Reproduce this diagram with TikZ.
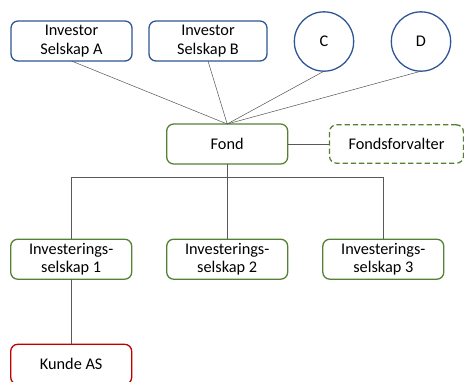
\documentclass[tikz,border=0pt]{standalone}
\usepackage{fontspec}
\setmainfont{Carlito}
\usepackage{tikz}
\usetikzlibrary{calc}

\definecolor{inv_blue}{HTML}{2F5597}
\definecolor{fond_green}{HTML}{548235}
\definecolor{kunde_red}{HTML}{C00000}
\definecolor{link_gray}{HTML}{595959}

\tikzset{
    box/.style={draw, rounded corners=6pt, line width=1.1pt, fill=white,
        minimum width=3.63cm, minimum height=1.2cm, align=center,
        font=\fontsize{13.9}{15.6}\selectfont},
    investor/.style={box, draw=inv_blue},
    fund/.style={box, draw=fond_green},
    client/.style={box, draw=kunde_red},
    holder/.style={circle, draw=inv_blue, line width=1.1pt, fill=white,
        minimum size=1.78cm, font=\fontsize{13.9}{15.6}\selectfont},
    link/.style={draw=link_gray, line width=0.45pt}
}

\begin{document}
\begin{tikzpicture}[x=0.03cm, y=-0.03cm, inner sep=0pt, outer sep=0pt]
    \useasboundingbox (0,0) rectangle (464,381);

    % investors
    \node[investor] (inv_a) at (71.5, 41) {Investor\\Selskap A};
    \node[investor, minimum width=3.54cm] (inv_b) at (208, 41) {Investor\\Selskap B};
    \node[holder] (inv_c) at (324, 41.5) {C};
    \node[holder] (inv_d) at (421, 41.5) {D};

    % fund and manager
    \node[fund] (fond) at (227.2, 144) {Fond};
    \node[fund, dash pattern=on 4.5pt off 2.5pt, minimum width=4.02cm, minimum height=1.15cm]
        (fond_mgr) at (396.5, 144) {Fondsforvalter};

    % investment companies
    \node[fund] (inv_1) at (71.2, 259.2) {Investerings-\\selskap 1};
    \node[fund] (inv_2) at (227.2, 259.2) {Investerings-\\selskap 2};
    \node[fund] (inv_3) at (383.3, 259.2) {Investerings-\\selskap 3};

    % customer
    \node[client] (kunde) at (71.2, 364.3) {Kunde AS};

    % links
    \coordinate (bus) at (227.2, 177.3);
    \draw[link] (inv_a.south) -- (fond.north);
    \draw[link] (inv_b.south) -- (fond.north);
    \draw[link] (inv_c.south) -- (fond.north);
    \draw[link] (inv_d.south) -- (fond.north);
    \draw[link] (fond.east) -- (fond_mgr.west);
    \draw[link] (fond.south) -- (bus);
    \draw[link] (inv_1.north) |- (bus) -| (inv_3.north);
    \draw[link] (bus) -- (inv_2.north);
    \draw[link] (inv_1.south) -- (kunde.north);
\end{tikzpicture}
\end{document}
